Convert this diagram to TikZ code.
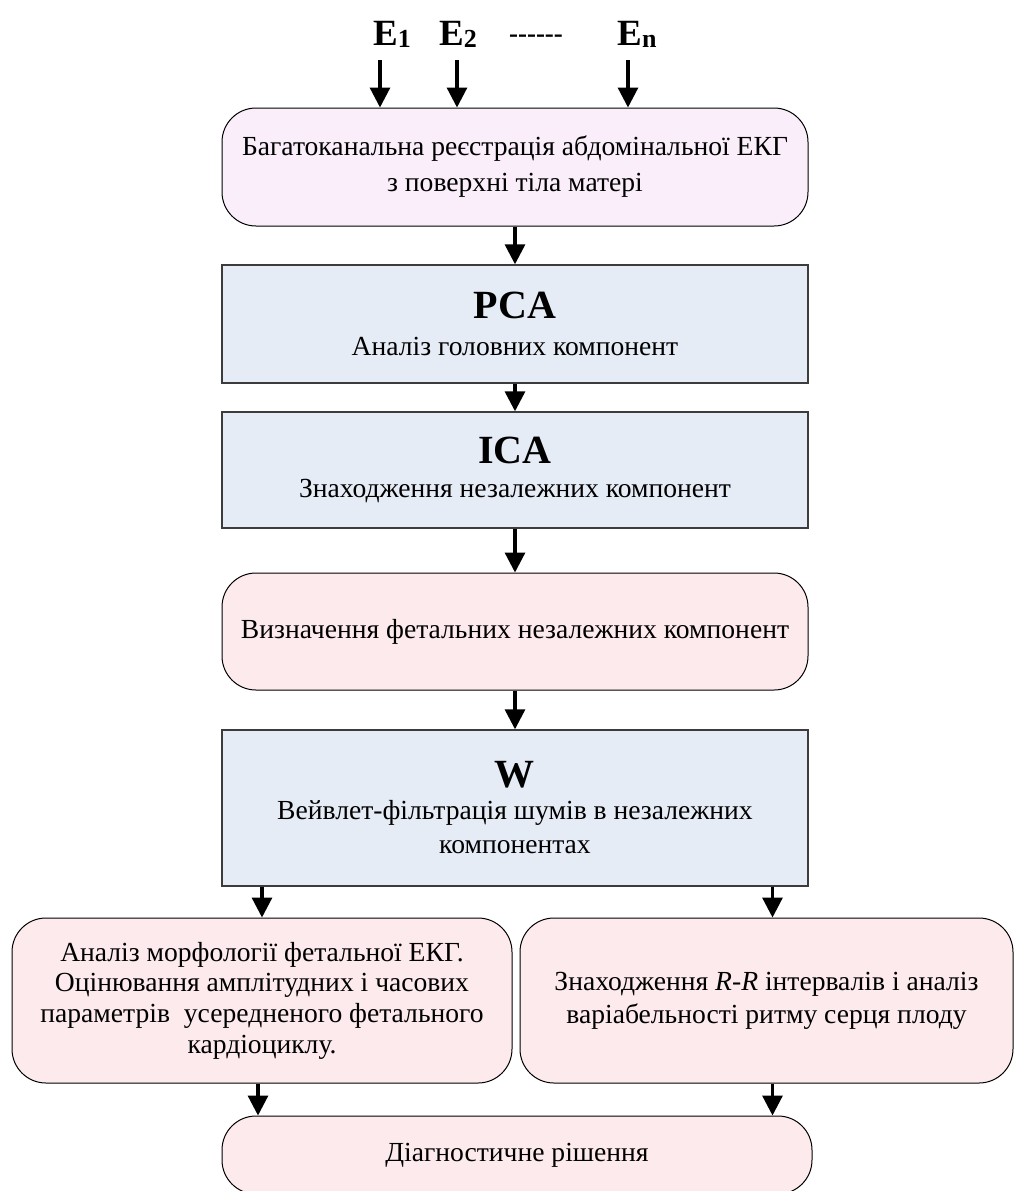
\documentclass[tikz,border=0pt]{standalone}
\usepackage{fontspec}
\setmainfont{Liberation Serif}
\usepackage{tikz}
\usetikzlibrary{arrows.meta}
\definecolor{lilacbg}{HTML}{F9EEFA}
\definecolor{stagebg}{HTML}{E6ECF6}
\definecolor{rosebg}{HTML}{FDEAEC}
\definecolor{edgegray}{HTML}{3C3C3C}
\tikzset{
  stagebox/.style={draw=edgegray, line width=0.7pt, fill=stagebg, align=center, inner sep=0pt},
  roundbox/.style={draw=black, line width=0.5pt, rounded corners=17pt, fill=rosebg, align=center, inner sep=0pt},
  arrow/.style={-{Triangle[length=10pt,width=10pt]}, line width=1.6pt}
}
\newcommand{\stagehead}[2]{{\bfseries\fontsize{20}{22}\selectfont #1}\\[#2]}
\newcommand{\elsub}[1]{\raisebox{-1pt}{\fontsize{13}{13}\selectfont #1}}

\begin{document}
\begin{tikzpicture}[x=0.5pt, y=-0.5pt, font=\fontsize{13.8}{15.3}\selectfont]
  \tikzset{elec/.style={font=\bfseries\fontsize{18.5}{19}\selectfont, inner sep=0pt, anchor=base}}
  \useasboundingbox (0,0) rectangle (1015,1191);

  % electrodes
  \node[elec] (e1) at (392,45) {E\elsub{1}};
  \node[elec] (e2) at (458,45) {E\elsub{2}};
  \node[elec, font=\bfseries\fontsize{13.5}{13.5}\selectfont] (edots) at (536,42) {{-}{-}{-}{-}{-}{-}};
  \node[elec] (en) at (637,45) {E\elsub{n}};
  \coordinate (in1) at (380,60);
  \coordinate (in2) at (457,60);
  \coordinate (inN) at (628,60);

  % processing chain
  \node[roundbox, fill=lilacbg, minimum width=293pt, minimum height=59pt,
        font=\fontsize{13.8}{18}\selectfont] (reg) at (515,167)
    {Багатоканальна реєстрація абдомінальної ЕКГ\\з поверхні тіла матері};
  \node[stagebox, minimum width=293pt, minimum height=59pt] (pca) at (515,324)
    {\stagehead{PCA}{3pt}Аналіз головних компонент};
  \node[stagebox, minimum width=293pt, minimum height=58pt] (ica) at (515,470)
    {\stagehead{ICA}{2pt}Знаходження незалежних компонент};
  \node[roundbox, minimum width=293pt, minimum height=58.5pt] (fetal) at (515,631.5)
    {Визначення фетальних незалежних компонент};
  \node[stagebox, minimum width=293pt, minimum height=78pt,
        font=\fontsize{13.8}{17}\selectfont] (wav) at (515,808)
    {\stagehead{W}{-1pt}Вейвлет-фільтрація шумів в незалежних\\компонентах};

  % two branches
  \node[roundbox, minimum width=250pt, minimum height=82.5pt] (morph) at (262,1000.5)
    {Аналіз морфології фетальної ЕКГ.\\Оцінювання амплітудних і часових\\параметрів\ \ усередненого фетального\\кардіоциклу.};
  \node[roundbox, minimum width=246.5pt, minimum height=82.5pt,
        font=\fontsize{13.8}{16.5}\selectfont] (rr) at (766.5,1000.5)
    {Знаходження \textit{R-R} інтервалів і аналіз\\варіабельності ритму серця плоду};
  \node[roundbox, minimum width=295pt, minimum height=39pt] (diag) at (517,1155)
    {Діагностичне рішення};

  \draw[arrow] (in1) -- (in1 |- reg.north);
  \draw[arrow] (in2) -- (in2 |- reg.north);
  \draw[arrow] (inN) -- (inN |- reg.north);
  \draw[arrow] (reg) -- (pca);
  \draw[arrow] (pca) -- (ica);
  \draw[arrow] (ica) -- (fetal);
  \draw[arrow] (fetal) -- (wav);
  \draw[arrow] (wav.south -| morph) -- (morph.north);
  \draw[arrow] ([xshift=3pt]wav.south -| rr) -- ([xshift=3pt]rr.north);
  \draw[arrow] ([xshift=-2pt]morph.south) -- ([xshift=-2pt]morph.south |- diag.north);
  \draw[arrow] ([xshift=3pt]rr.south) -- ([xshift=3pt]rr.south |- diag.north);
\end{tikzpicture}
\end{document}
